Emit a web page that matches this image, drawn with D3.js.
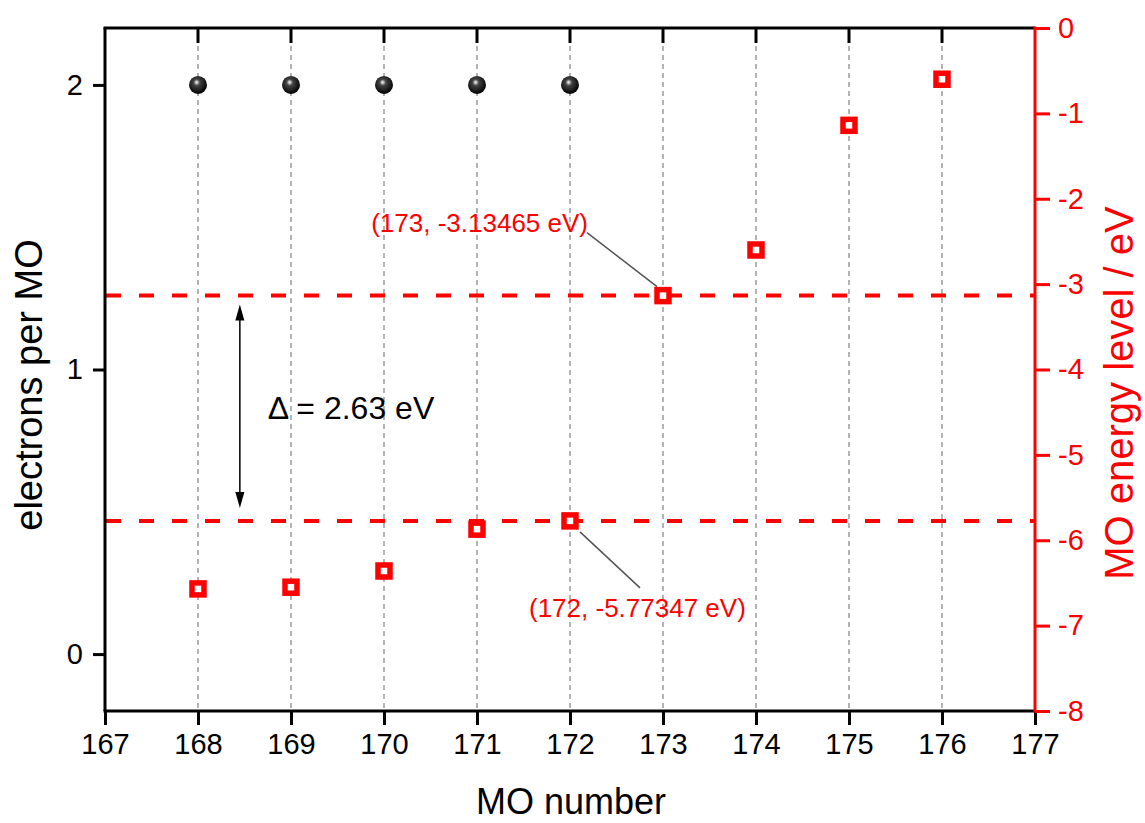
<!DOCTYPE html>
<html>
<head>
<meta charset="utf-8">
<script src="https://cdn.jsdelivr.net/npm/d3@7"></script>
<style>
  body { margin: 0; background: #fff; }
  svg { font-family: "Liberation Sans", Arial, sans-serif; }
</style>
</head>
<body>
<div id="chart"></div>
<script>
// MO numbers and values
const moNumbers = [168, 169, 170, 171, 172, 173, 174, 175, 176];
const energies = [-6.57, -6.55, -6.36, -5.87, -5.77347, -3.13465, -2.60, -1.14, -0.60];
const occupiedMOs = [168, 169, 170, 171, 172];
const electrons = [2, 2, 2, 2, 2];
const xTicks = [167, 168, 169, 170, 171, 172, 173, 174, 175, 176, 177];
const leftTicks = [0, 1, 2];
const rightTicks = [0, -1, -2, -3, -4, -5, -6, -7, -8];
const homo = { mo: 172, e: -5.77347, label: "(172, -5.77347 eV)" };
const lumo = { mo: 173, e: -3.13465, label: "(173, -3.13465 eV)" };
const gapLabel = "\u0394 = 2.63 eV";

document.addEventListener('DOMContentLoaded', function () {
    const w = 1145, h = 823;
    const m = { left: 105, right: 1035, top: 28, bottom: 711 };
    const red = '#ff0000';
    const font = '"Liberation Sans", Arial, sans-serif';

    const svg = d3.select('#chart').append('svg')
        .attr('width', w)
        .attr('height', h);

    const x = d3.scaleLinear().domain([167, 177]).range([m.left, m.right]);
    const yL = d3.scaleLinear().domain([-0.2, 2.2]).range([m.bottom, m.top]);
    const yR = d3.scaleLinear().domain([-8, 0]).range([m.bottom, m.top]);

    // sphere gradient
    const grad = svg.append('defs').append('radialGradient')
        .attr('id', 'ball').attr('cx', '45%').attr('cy', '40%').attr('r', '60%')
        .attr('fx', '42%').attr('fy', '35%');
    grad.append('stop').attr('offset', '0%').attr('stop-color', '#ffffff');
    grad.append('stop').attr('offset', '30%').attr('stop-color', '#444');
    grad.append('stop').attr('offset', '100%').attr('stop-color', '#000');

    // vertical dashed grid
    svg.append('g').selectAll('line')
        .data(moNumbers)
        .enter().append('line')
        .attr('x1', d => x(d)).attr('x2', d => x(d))
        .attr('y1', m.top).attr('y2', m.bottom)
        .attr('stroke', '#8c8c8c')
        .attr('stroke-width', 1.3)
        .attr('stroke-dasharray', '5,4');

    // HOMO / LUMO dashed lines
    svg.append('g').selectAll('line')
        .data([lumo, homo])
        .enter().append('line')
        .attr('x1', m.left).attr('x2', m.right)
        .attr('y1', d => yR(d.e)).attr('y2', d => yR(d.e))
        .attr('stroke', red)
        .attr('stroke-width', 4)
        .attr('stroke-dasharray', '15,18')
        .attr('stroke-dashoffset', -1);

    // axes
    const xAxis = svg.append('g')
        .attr('transform', `translate(0,${m.bottom})`)
        .call(d3.axisBottom(x).tickValues(xTicks).tickFormat(d3.format('d')).tickSize(14).tickPadding(8));
    const leftAxis = svg.append('g')
        .attr('transform', `translate(${m.left},0)`)
        .call(d3.axisLeft(yL).tickValues(leftTicks).tickFormat(d3.format('d')).tickSize(12).tickPadding(10));
    const rightAxis = svg.append('g')
        .attr('transform', `translate(${m.right},0)`)
        .call(d3.axisRight(yR).tickValues(rightTicks).tickFormat(d => d === 0 ? '0' : '-' + Math.abs(d)).tickSize(15).tickPadding(8));

    [xAxis, leftAxis].forEach(g => {
        g.selectAll('line').attr('stroke', '#000').attr('stroke-width', 3);
        g.select('.domain').remove();
    });
    rightAxis.selectAll('line').attr('stroke', red).attr('stroke-width', 3);
    rightAxis.select('.domain').remove();

    // inward ticks on the top edge
    svg.append('g').selectAll('line')
        .data(moNumbers)
        .enter().append('line')
        .attr('x1', d => x(d)).attr('x2', d => x(d))
        .attr('y1', m.top).attr('y2', m.top + 15)
        .attr('stroke', '#000').attr('stroke-width', 3);

    // frame lines
    svg.append('line').attr('x1', m.left - 1.5).attr('x2', m.right).attr('y1', m.top).attr('y2', m.top)
        .attr('stroke', '#000').attr('stroke-width', 3);
    svg.append('line').attr('x1', m.left - 1.5).attr('x2', m.right).attr('y1', m.bottom).attr('y2', m.bottom)
        .attr('stroke', '#000').attr('stroke-width', 3);
    svg.append('line').attr('x1', m.left).attr('x2', m.left).attr('y1', m.top).attr('y2', m.bottom)
        .attr('stroke', '#000').attr('stroke-width', 3);
    svg.append('line').attr('x1', m.right).attr('x2', m.right).attr('y1', m.top - 1.5).attr('y2', m.bottom + 1.5)
        .attr('stroke', red).attr('stroke-width', 3);

    xAxis.selectAll('text').attr('font-size', 29).attr('fill', '#000').attr('font-family', font);
    leftAxis.selectAll('text').attr('font-size', 29).attr('fill', '#000').attr('font-family', font);
    rightAxis.selectAll('text').attr('font-size', 29).attr('fill', red).attr('font-family', font);

    // electrons per MO
    svg.append('g').selectAll('circle')
        .data(occupiedMOs)
        .enter().append('circle')
        .attr('cx', d => x(d))
        .attr('cy', (d, i) => yL(electrons[i]))
        .attr('r', 9)
        .attr('fill', 'url(#ball)');

    // MO energies
    const s = 12;
    svg.append('g').selectAll('rect')
        .data(moNumbers)
        .enter().append('rect')
        .attr('x', d => x(d) - s / 2)
        .attr('y', (d, i) => yR(energies[i]) - s / 2)
        .attr('width', s).attr('height', s)
        .attr('fill', '#fff')
        .attr('stroke', red)
        .attr('stroke-width', 5.5);

    // annotations
    const lx = x(lumo.mo), ly = yR(lumo.e);
    svg.append('line').attr('x1', lx - 76).attr('y1', ly - 63).attr('x2', lx - 6).attr('y2', ly - 9)
        .attr('stroke', '#555').attr('stroke-width', 1.5);
    svg.append('text').attr('x', lx - 75).attr('y', ly - 64)
        .attr('text-anchor', 'end').attr('font-size', 26).attr('fill', red).text(lumo.label);

    const hx = x(homo.mo), hy = yR(homo.e);
    svg.append('line').attr('x1', hx + 10).attr('y1', hy + 11).attr('x2', hx + 70).attr('y2', hy + 67)
        .attr('stroke', '#555').attr('stroke-width', 1.5);
    svg.append('text').attr('x', hx - 41).attr('y', hy + 96)
        .attr('font-size', 26).attr('fill', red).text(homo.label);

    // gap arrow
    const ax = x(168.45);
    const top = yR(lumo.e) + 9, bot = yR(homo.e) - 13;
    svg.append('line').attr('x1', ax).attr('x2', ax).attr('y1', top + 10).attr('y2', bot - 10)
        .attr('stroke', '#000').attr('stroke-width', 1.5);
    svg.append('path').attr('d', `M${ax},${top} L${ax - 4.5},${top + 16} L${ax + 4.5},${top + 16} Z`).attr('fill', '#000');
    svg.append('path').attr('d', `M${ax},${bot} L${ax - 4.5},${bot - 16} L${ax + 4.5},${bot - 16} Z`).attr('fill', '#000');
    svg.append('text').attr('x', ax + 28).attr('y', (top + bot) / 2 + 13)
        .attr('font-size', 32).attr('fill', '#000').text(gapLabel);

    // axis titles
    svg.append('text').attr('x', (m.left + m.right) / 2 + 1).attr('y', 814)
        .attr('text-anchor', 'middle').attr('font-size', 36).text('MO number');
    svg.append('text').attr('transform', 'translate(42,385) rotate(-90)')
        .attr('text-anchor', 'middle').attr('font-size', 38).text('electrons per MO');
    svg.append('text').attr('transform', 'translate(1133,393) rotate(-90)')
        .attr('text-anchor', 'middle').attr('font-size', 40).attr('fill', red).text('MO energy level / eV');
});
</script>
</body>
</html>
